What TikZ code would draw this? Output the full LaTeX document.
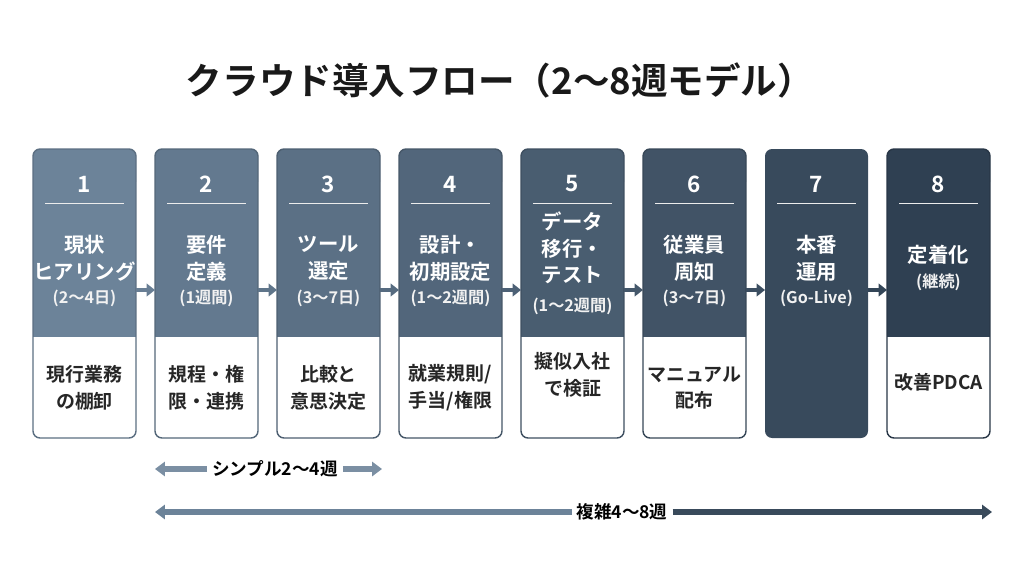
\documentclass[tikz,border=0pt]{standalone}
\usepackage{fontspec}
\setmainfont{Noto Sans CJK JP}
\newfontfamily\jpb{Noto Sans CJK JP Bold}
\usetikzlibrary{arrows.meta}
\definecolor{c1}{HTML}{6C8399}
\definecolor{c8}{HTML}{2F4052}
\begin{document}
\begin{tikzpicture}[x=0.025cm,y=-0.025cm,
  num/.style={text=white,font=\jpb\fontsize{16}{18}\selectfont},
  ttl/.style={text=white,font=\jpb\fontsize{14.5}{19}\selectfont,align=center},
  sub/.style={text=white!90!gray,font=\jpb\fontsize{11.5}{12}\selectfont},
  body/.style={text=black!85,font=\jpb\fontsize{13.5}{19}\selectfont,align=center},
  conn/.style={-{Triangle[length=6pt,width=9pt]},line width=3.5pt,draw=#1},
  span/.style={-{Triangle[length=7pt,width=10pt]},line width=4pt,draw=#1}]
\useasboundingbox (0,0) rectangle (1024,572);
\node[font=\jpb\fontsize{26}{28}\selectfont,text=black!90] (title) at (500,80) {クラウド導入フロー（2〜8週モデル）};
\foreach \i/\x in {1/33,2/155,3/277,4/399,5/521,6/643,7/765,8/887}{
  \pgfmathsetmacro{\pct}{100-(\i-1)*100/7}
  \colorlet{cc}{c1!\pct!c8}
  \ifnum\i=7
    \fill[cc,rounded corners=5pt] (\x,149) rectangle ++(103,289);
  \else
    \fill[white,rounded corners=5pt] (\x,149) rectangle ++(103,289);
    \fill[cc,rounded corners=5pt] (\x,149) rectangle ++(103,40);
    \fill[cc] (\x,170) rectangle ++(103,167);
    \draw[cc!85!black,line width=1pt,rounded corners=5pt] (\x,149) rectangle ++(103,289);
  \fi
  \coordinate (k\i) at (\x+51.5,0);
  \node[num] (n\i) at (\x+51.5,184) {\i};
  \draw[white!85!gray,line width=0.6pt] (\x+12,203) -- (\x+91,203);
}
\node[ttl] (t1) at (k1|-0,258) {現状\\ヒアリング};
\node[ttl] (t2) at (k2|-0,258) {要件\\定義};
\node[ttl] (t3) at (k3|-0,258) {ツール\\選定};
\node[ttl] (t4) at (k4|-0,258) {設計・\\初期設定};
\node[ttl] (t5) at (k5|-0,248) {データ\\移行・\\テスト};
\node[ttl] (t6) at (k6|-0,258) {従業員\\周知};
\node[ttl] (t7) at (k7|-0,258) {本番\\運用};
\node[ttl] (t8) at (k8|-0,255) {定着化};
\node[sub] (s1) at (k1|-0,298) {(2〜4日)};
\node[sub] (s2) at (k2|-0,298) {(1週間)};
\node[sub] (s3) at (k3|-0,298) {(3〜7日)};
\node[sub] (s4) at (k4|-0,298) {(1〜2週間)};
\node[sub] (s5) at (k5|-0,306) {(1〜2週間)};
\node[sub] (s6) at (k6|-0,298) {(3〜7日)};
\node[sub] (s7) at (k7|-0,298) {(Go-Live)};
\node[sub] (s8) at (k8|-0,282) {(継続)};
\node[body] (b1) at (k1|-0,388) {現行業務\\の棚卸};
\node[body] (b2) at (k2|-0,388) {規程・権\\限・連携};
\node[body] (b3) at (k3|-0,388) {比較と\\意思決定};
\node[body] (b4) at (k4|-0,388) {就業規則/\\手当/権限};
\node[body] (b5) at (k5|-0,375) {擬似入社\\で検証};
\node[body] (b6) at (k6|-0,388) {マニュアル\\配布};
\node[body] (b8) at (k8|-0,382) {改善PDCA};
\foreach \i/\x in {1/136,2/258,3/380,4/502,5/624,6/746,7/868}{
  \pgfmathsetmacro{\pct}{100-(\i-0.5)*100/7}
  \colorlet{ac}{c1!\pct!c8}
  \coordinate (a\i) at (\x,290);
  \coordinate (e\i) at (\x+19,290);
  \draw[conn=ac] (a\i) -- (e\i);
}
\node[font=\jpb\fontsize{12.5}{14}\selectfont] (simple) at (275,469) {シンプル2〜4週};
\coordinate (sl) at (155,469); \coordinate (sr) at (382,469);
\draw[span=c1!90!white] (simple.west) -- (sl);
\draw[span=c1!90!white] (simple.east) -- (sr);
\node[font=\jpb\fontsize{12.5}{14}\selectfont] (complex) at (622,512) {複雑4〜8週};
\coordinate (cl) at (155,512); \coordinate (cr) at (992,512);
\draw[span=c1] (complex.west) -- (cl);
\draw[span=c8!95!white] (complex.east) -- (cr);
\end{tikzpicture}
\end{document}
